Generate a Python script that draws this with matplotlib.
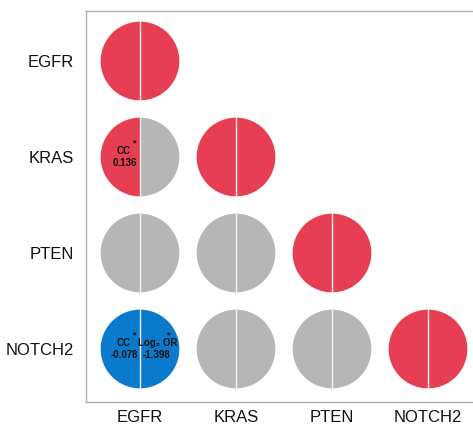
import matplotlib.pyplot as plt
from matplotlib.patches import Wedge

plt.rcParams['font.family'] = ['Liberation Sans', 'DejaVu Sans']

genes = ['EGFR', 'KRAS', 'PTEN', 'NOTCH2']

# lower triangle, one row per gene: state of the left half (CC) and right half (log2 OR)
# 1 = positive & significant, -1 = negative & significant, 0 = not significant
cc_state = [[1], [1, 1], [0, 0, 1], [-1, 0, 0, 1]]
or_state = [[1], [0, 1], [0, 0, 1], [-1, 0, 0, 1]]

# printed values for the significant off-diagonal pairs: (row, col) -> value
cc_values = {(1, 0): 0.136, (3, 0): -0.078}
or_values = {(3, 0): -1.398}

state_colors = {1: '#e63e52', -1: '#0a7acc', 0: '#b5b6b5'}
txt_kw = dict(ha='center', va='center', fontsize=7.0, fontweight='bold', color='#111111')
star_kw = dict(ha='center', va='center', fontsize=6.5, fontweight='bold', color='#111111')

fig = plt.figure(figsize=(4.73, 4.25), dpi=100)
ax = fig.add_axes([86 / 473, 23 / 425, 395 / 473, 391 / 425])

r = 0.41
for i in range(len(genes)):
    for j in range(i + 1):
        left = state_colors[cc_state[i][j]]
        right = state_colors[or_state[i][j]]
        ax.add_patch(Wedge((j, i), r, 90, 270, facecolor=left, edgecolor='none'))
        ax.add_patch(Wedge((j, i), r, -90, 90, facecolor=right, edgecolor='none'))
        ax.plot([j, j], [i - r, i + r], color='#f2f2f2', lw=1.0)

        if (i, j) in cc_values:
            ax.text(j - 0.17, i - 0.065, 'CC', **txt_kw)
            ax.text(j - 0.16, i + 0.065, '{:.3f}'.format(cc_values[(i, j)]), **txt_kw)
            ax.text(j - 0.06, i - 0.15, '*', **star_kw)
        if (i, j) in or_values:
            ax.text(j + 0.18, i - 0.065, 'Log\u2082 OR', **txt_kw)
            ax.text(j + 0.17, i + 0.065, '{:.3f}'.format(or_values[(i, j)]), **txt_kw)
            ax.text(j + 0.30, i - 0.15, '*', **star_kw)

ax.set_xlim(-0.5625, -0.5625 + 395 / 96)
ax.set_ylim(3 + 53 / 96, -50 / 96)

ax.set_xticks(range(len(genes)))
ax.set_xticklabels(genes)
ax.set_yticks(range(len(genes)))
ax.set_yticklabels(genes)
ax.tick_params(length=0, labelsize=12, colors='#111111')
ax.tick_params(axis='x', pad=5.5)
ax.tick_params(axis='y', pad=9)

for s in ax.spines.values():
    s.set_color('#b0b0b0')
    s.set_linewidth(1.0)

fig.savefig('out.png', dpi=100)
